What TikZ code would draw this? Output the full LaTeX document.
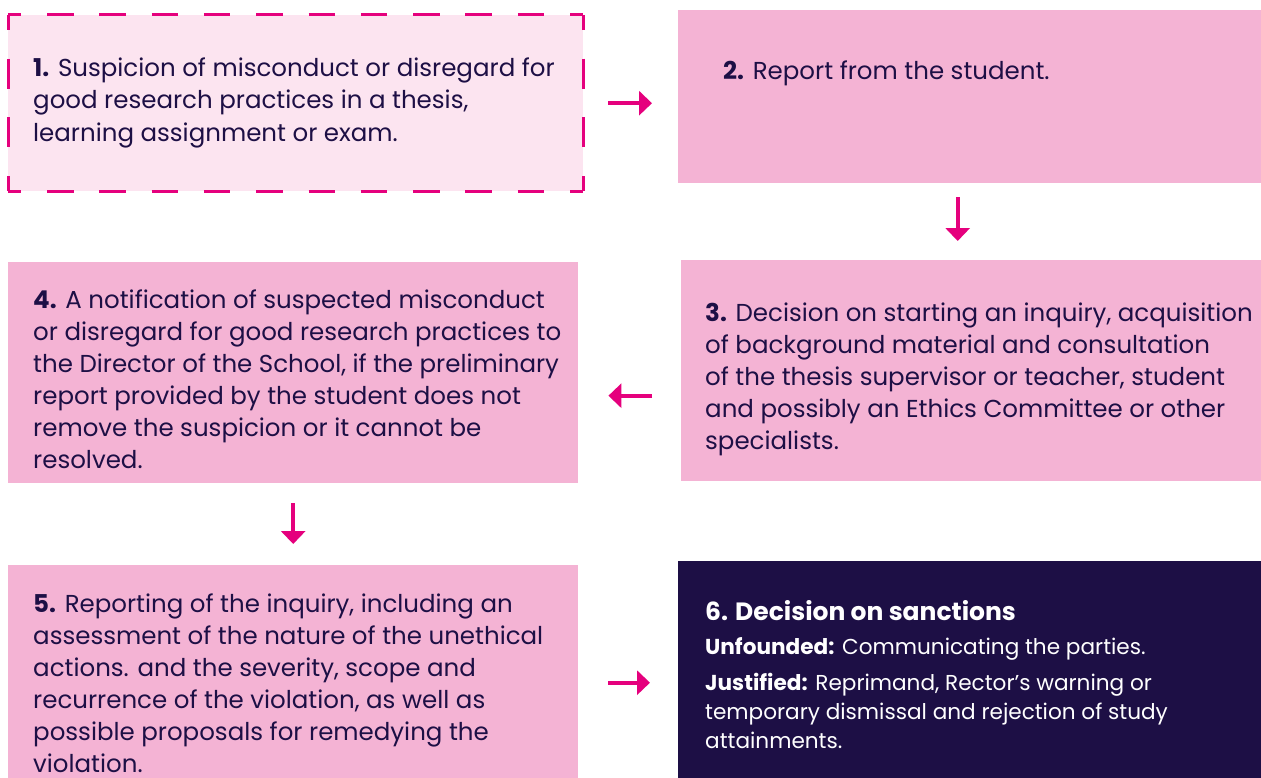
\documentclass[tikz,border=0pt]{standalone}
\usepackage{fontspec}
\setmainfont{Poppins}
\usetikzlibrary{arrows.meta}
\definecolor{pinkbox}{HTML}{F4B3D4}
\definecolor{lightpink}{HTML}{FCE4F0}
\definecolor{magenta}{HTML}{E5007D}
\definecolor{navy}{HTML}{1D0F45}
\newcommand{\tbox}[1]{\parbox[t]{600bp}{\raggedright #1}}
\tikzset{
  box/.style={draw=none, fill=pinkbox, inner sep=0pt, anchor=north west},
  lightbox/.style={fill=lightpink, draw=none, inner sep=0pt, anchor=north west},
  hside/.style={draw=magenta, line width=3bp, dash pattern=on 26.5bp off 25.8bp, dash phase=13.25bp},
  vside/.style={draw=magenta, line width=3bp, dash pattern=on 30bp off 28.7bp, dash phase=15bp},
  darkbox/.style={fill=navy, draw=none, inner sep=0pt, anchor=north west},
  txt/.style={inner sep=0pt, anchor=base west, text=navy, font=\fontsize{24.5bp}{32bp}\selectfont},
  wtxt/.style={inner sep=0pt, anchor=base west, text=white, font=\fontsize{21.6bp}{29bp}\selectfont},
  flow/.style={draw=magenta, line width=4bp, -{Triangle[length=13bp,width=24bp]}},
}
\begin{document}
\begin{tikzpicture}[x=1bp,y=-1bp]
\useasboundingbox[fill=white] (0,0) rectangle (1261,778);
\node[lightbox, minimum width=575bp, minimum height=176bp] (b1) at (8,15) {};
\draw[hside] (b1.north west) -- (b1.north east);
\draw[hside] (b1.south west) -- (b1.south east);
\draw[vside] (b1.north west) -- (b1.south west);
\draw[vside] (b1.north east) -- (b1.south east);
\node[box, minimum width=583bp, minimum height=173bp] (b2) at (678,10) {};
\node[box, minimum width=580bp, minimum height=221bp] (b3) at (681,260) {};
\node[box, minimum width=570bp, minimum height=221bp] (b4) at (8,262) {};
\node[box, minimum width=570bp, minimum height=213bp] (b5) at (8,565) {};
\node[darkbox, minimum width=583bp, minimum height=217bp] (b6) at (678,561) {};

\node[txt] (t1) at (33,77) {\tbox{\textbf{1.} Suspicion of misconduct or disregard for\\good research practices in a thesis,\\learning assignment or exam.}};
\node[txt] (t2) at (723,80) {\tbox{\textbf{2.} Report from the student.}};
\node[txt] (t3) at (705,321) {\tbox{\textbf{3.} Decision on starting an inquiry, acquisition\\of background material and consultation\\of the thesis supervisor or teacher, student\\and possibly an Ethics Committee or other\\specialists.}};
\node[txt] (t4) at (33,308) {\tbox{\textbf{4.} A notification of suspected misconduct\\or disregard for good research practices to\\the Director of the School, if the preliminary\\report provided by the student does not\\remove the suspicion or it cannot be\\resolved.}};
\node[txt] (t5) at (33,612) {\tbox{\textbf{5.} Reporting of the inquiry, including an\\assessment of the nature of the unethical\\actions. and the severity, scope and\\recurrence of the violation, as well as\\possible proposals for remedying the\\violation.}};
\node[inner sep=0pt, anchor=base west, text=white, font=\fontsize{25bp}{30bp}\selectfont\bfseries] (t6) at (705,620) {6. Decision on sanctions};
\node[wtxt] (t6a) at (705,654) {\tbox{\textbf{Unfounded:} Communicating the parties.}};
\node[wtxt] (t6b) at (705,690) {\tbox{\textbf{Justified:} Reprimand, Rector’s warning or\\temporary dismissal and rejection of study\\attainments.}};

\draw[flow, shorten <=25bp, shorten >=26bp] (b1.east) -- (b1.east -| b2.west);
\draw[flow, shorten <=14bp, shorten >=19bp] ([xshift=-12bp]b2.south) -- ([xshift=-12bp]b2.south |- b3.north);
\draw[flow, shorten <=29bp, shorten >=30bp] ([yshift=-25bp]b3.west) -- ([yshift=-25bp]b3.west -| b4.east);
\draw[flow, shorten <=20bp, shorten >=21bp] (b4.south) -- (b4.south |- b5.north);
\draw[flow, shorten <=30bp, shorten >=28bp] ([yshift=-11bp]b5.east) -- ([yshift=-11bp]b5.east -| b6.west);
\end{tikzpicture}
\end{document}
